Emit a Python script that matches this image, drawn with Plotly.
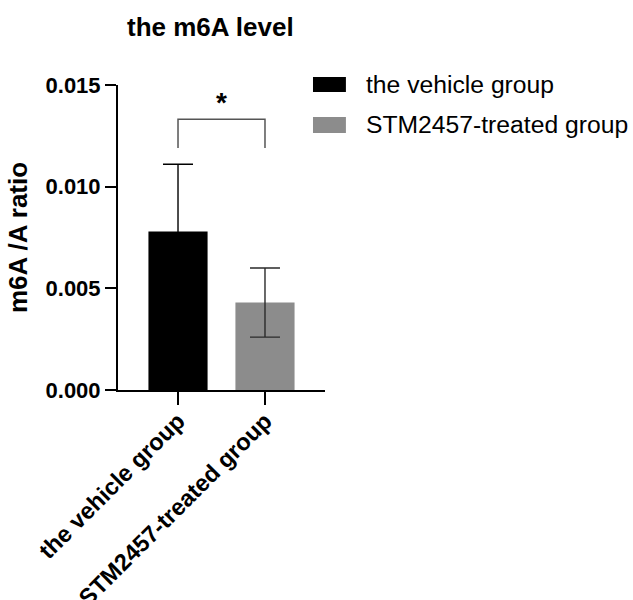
import plotly.graph_objects as go

categories = ["the vehicle group", "STM2457-treated group"]
means = [0.0078, 0.0043]
sds = [0.0033, 0.0017]
bar_colors = ["#000000", "#8c8c8c"]
err_colors = ["#000000", "#2a2a2a"]
yticks = [0.0, 0.005, 0.010, 0.015]
ytick_labels = ["0.000", "0.005", "0.010", "0.015"]
bracket_y = [0.0119, 0.01332, 0.01332, 0.0119]
star_y = 0.01412

FONT = "Liberation Sans, Arial, sans-serif"

fig = go.Figure()
for i in range(len(categories)):
    fig.add_trace(go.Bar(
        x=[i], y=[means[i]], name=categories[i],
        marker=dict(color=bar_colors[i], line=dict(width=0)),
        width=0.68,
        error_y=dict(type="data", array=[sds[i]], visible=True, color=err_colors[i],
                     thickness=1.4, width=15),
        showlegend=False,
    ))

# significance bracket
fig.add_trace(go.Scatter(
    x=[0, 0, 1, 1], y=bracket_y, mode="lines",
    line=dict(color="#555555", width=1.5), showlegend=False, hoverinfo="skip",
))
fig.add_annotation(x=0.5, y=star_y, xref="x", yref="y", text="*",
                   showarrow=False, font=dict(family=FONT, size=28, color="black", weight="bold"))

# custom legend
leg_y = [(1.026, 0.977), (0.895, 0.843)]
for i, (name, col) in enumerate(zip(categories, bar_colors)):
    y1, y0 = leg_y[i]
    fig.add_shape(type="rect", xref="paper", yref="paper", x0=0.942, x1=1.101,
                  y0=y0, y1=y1, fillcolor=col, line=dict(width=0))
    fig.add_annotation(xref="paper", yref="paper", x=1.19, y=(y0 + y1) / 2,
                       text=name, showarrow=False, xanchor="left", yanchor="middle",
                       font=dict(family=FONT, size=24.7, color="black"))

fig.update_layout(
    width=633, height=600,
    margin=dict(l=118, r=308, t=85, b=210, pad=0),
    paper_bgcolor="white", plot_bgcolor="white",
    font=dict(family=FONT, color="black"),
    barmode="overlay",
    title=dict(text="<b>the m6A level</b>", x=127 / 633, xanchor="left",
               y=1 - 27 / 600, yanchor="middle", xref="container", yref="container",
               font=dict(family=FONT, size=26, color="black")),
)
fig.update_xaxes(
    range=[-0.69, 1.69], tickvals=[0, 1], ticktext=categories,
    tickangle=-45, showline=True, linecolor="black", linewidth=2,
    ticks="outside", ticklen=13, tickwidth=2, tickcolor="black",
    showgrid=False, zeroline=False, automargin=False, ticklabelstandoff=-7,
    tickfont=dict(family=FONT, size=23.5, color="black", weight="bold"),
)
fig.update_yaxes(
    range=[0, 0.015], tickvals=yticks, ticktext=ytick_labels,
    showline=True, linecolor="black", linewidth=2,
    ticks="outside", ticklen=11, tickwidth=2, tickcolor="black",
    showgrid=False, zeroline=False, automargin=False,
    tickfont=dict(family=FONT, size=22, color="black", weight="bold"),
    title=dict(text="m6A /A ratio", standoff=10,
               font=dict(family=FONT, size=26, color="black", weight="bold")),
)

fig.write_html("out.html")
